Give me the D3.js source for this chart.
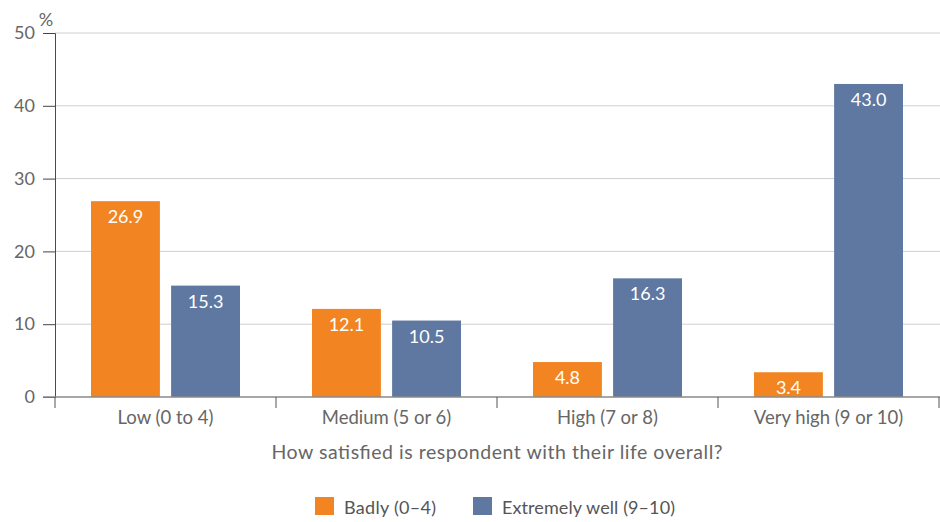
<!DOCTYPE html>
<html>
<head>
<meta charset="utf-8">
<script src="https://cdn.jsdelivr.net/npm/d3@7"></script>
<style>
  body { margin: 0; background: #fff; }
  svg text { font-family: Lato, "Open Sans", sans-serif; }
</style>
</head>
<body>
<svg id="chart"></svg>
<script>
// Data
const categories = ["Low (0 to 4)", "Medium (5 or 6)", "High (7 or 8)", "Very high (9 or 10)"];
const seriesNames = ["Badly (0\u20134)", "Extremely well (9\u201310)"];
const badly = [26.9, 12.1, 4.8, 3.4];
const extremelyWell = [15.3, 10.5, 16.3, 43.0];
const yTicks = [0, 10, 20, 30, 40, 50];
const colors = ["#F28522", "#5E78A1"];

const width = 940;
const height = 522;
const margin = { top: 33, right: 1, bottom: 125, left: 55 };

const svg = d3.select("#chart")
    .attr("width", width)
    .attr("height", height);

const x0 = d3.scaleBand()
    .domain(categories)
    .range([margin.left, width - margin.right])
    .paddingInner(0)
    .paddingOuter(0);

const x1 = d3.scaleBand()
    .domain(seriesNames)
    .range([36, x0.bandwidth() - 36])
    .paddingInner(0.14);

const y = d3.scaleLinear()
    .domain([0, 50])
    .range([height - margin.bottom, margin.top]);

// Gridlines
svg.append("g")
    .selectAll("line")
    .data(yTicks.filter(d => d > 0))
    .join("line")
    .attr("x1", margin.left)
    .attr("x2", width)
    .attr("y1", d => y(d))
    .attr("y2", d => y(d))
    .attr("stroke", "#cfcfcf")
    .attr("stroke-width", 1);

// Y axis
const yAxis = svg.append("g")
    .attr("transform", `translate(${margin.left},0)`)
    .call(d3.axisLeft(y).tickValues(yTicks).tickSize(12).tickPadding(8));
yAxis.select(".domain").attr("stroke", "#2b4f86");
yAxis.selectAll(".tick line").attr("stroke", "#444");
yAxis.selectAll(".tick text")
    .attr("fill", "#666")
    .style("font-size", "18px");

svg.append("text")
    .attr("x", 46)
    .attr("y", 26)
    .attr("text-anchor", "middle")
    .attr("fill", "#666")
    .style("font-size", "18px")
    .text("%");

// Bars
const groups = [badly, extremelyWell];
const barData = [];
categories.forEach((c, i) => {
    seriesNames.forEach((s, j) => {
        barData.push({ cat: c, series: s, value: groups[j][i], color: colors[j] });
    });
});

svg.append("g")
    .selectAll("rect")
    .data(barData)
    .join("rect")
    .attr("x", d => x0(d.cat) + x1(d.series))
    .attr("y", d => y(d.value))
    .attr("width", x1.bandwidth())
    .attr("height", d => y(0) - y(d.value))
    .attr("fill", d => d.color);

svg.append("g")
    .selectAll("text")
    .data(barData)
    .join("text")
    .attr("x", d => x0(d.cat) + x1(d.series) + x1.bandwidth() / 2)
    .attr("y", d => y(d.value) + 22)
    .attr("text-anchor", "middle")
    .attr("fill", "#fff")
    .style("font-size", "18px")
    .text(d => d.value.toFixed(1));

// X axis
const xAxisG = svg.append("g")
    .attr("transform", `translate(0,${y(0)})`);
xAxisG.append("line")
    .attr("x1", margin.left - 12)
    .attr("x2", width)
    .attr("stroke", "#8a8a8a")
    .attr("stroke-width", 1.5);
const dividers = categories.map(c => x0(c)).concat([x0.range()[1]]);
xAxisG.selectAll(".div")
    .data(dividers)
    .join("line")
    .attr("x1", d => d)
    .attr("x2", d => d)
    .attr("y1", 0)
    .attr("y2", 11)
    .attr("stroke", "#555");
xAxisG.selectAll(".lbl")
    .data(categories)
    .join("text")
    .attr("x", d => x0(d) + x0.bandwidth() / 2)
    .attr("y", 27)
    .attr("text-anchor", "middle")
    .attr("fill", "#666")
    .style("font-size", "18.5px")
    .text(d => d);

svg.append("text")
    .attr("x", 497)
    .attr("y", 459)
    .attr("text-anchor", "middle")
    .attr("fill", "#666")
    .style("font-size", "19.5px")
    .attr("textLength", 451)
    .attr("lengthAdjust", "spacing")
    .text("How satisfied is respondent with their life overall?");

// Legend
const legendX = [315, 473];
const legendW = [92, 173];
const legend = svg.append("g");
seriesNames.forEach((s, i) => {
    legend.append("rect")
        .attr("x", legendX[i])
        .attr("y", 497)
        .attr("width", 19)
        .attr("height", 18)
        .attr("fill", colors[i]);
    legend.append("text")
        .attr("x", legendX[i] + 29)
        .attr("y", 514)
        .attr("fill", "#555")
        .style("font-size", "18px")
        .attr("textLength", legendW[i])
        .attr("lengthAdjust", "spacing")
        .text(s);
});
</script>
</body>
</html>
